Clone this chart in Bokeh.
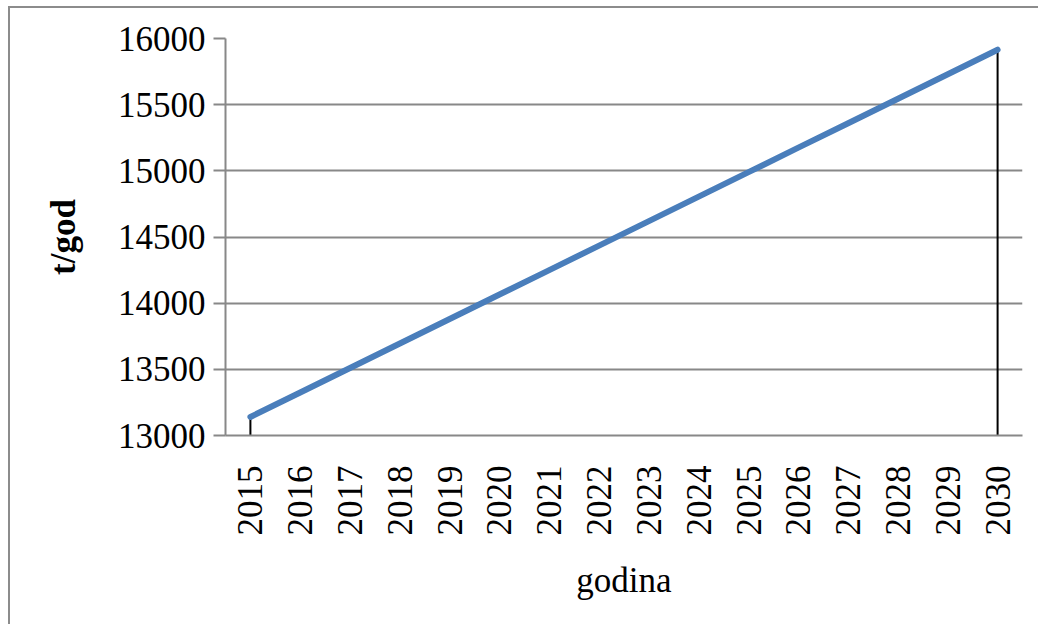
import math
from bokeh.plotting import figure
from bokeh.models import FactorRange, Range1d, FixedTicker, ColumnDataSource
from bokeh.embed import file_html
from bokeh.resources import INLINE

years = [str(y) for y in range(2015, 2031)]
values = [13140, 13325, 13510, 13695, 13880, 14065, 14250, 14435,
          14620, 14805, 14990, 15175, 15360, 15545, 15730, 15915]
y_ticks = [13000, 13500, 14000, 14500, 15000, 15500, 16000]
y_min, y_max = 13000, 16000

FONT = "Liberation Serif"
GRID = "#888888"
FS = "35px"

p = figure(width=1030, height=618, x_range=FactorRange(*years, range_padding=0),
           y_range=Range1d(y_min, y_max), output_backend="svg", toolbar_location=None,
           min_border_left=215, min_border_right=18, min_border_top=30, min_border_bottom=191)
p.margin = (6, 0, 0, 8)
p.styles = {"border-top": "2px solid #8c8c8c", "border-left": "2px solid #8c8c8c"}
p.outline_line_color = None
p.background_fill_color = "white"

src = ColumnDataSource(dict(x=years, y=values))
# drop lines at first and last points
drop = ColumnDataSource(dict(x=[years[0], years[-1]], y0=[y_min, y_min], y1=[values[0], values[-1]]))
p.segment(x0="x", y0="y0", x1="x", y1="y1", source=drop, line_color="black", line_width=2)
p.line("x", "y", source=src, line_color="#4a7ebb", line_width=6, line_cap="round")

p.xgrid.grid_line_color = None
p.ygrid.grid_line_color = GRID
p.ygrid.grid_line_width = 2
p.yaxis.ticker = FixedTicker(ticks=y_ticks)

for ax in (p.xaxis[0], p.yaxis[0]):
    ax.axis_line_color = GRID
    ax.axis_line_width = 2
    ax.major_label_text_font = FONT
    ax.major_label_text_font_size = FS
    ax.major_label_text_color = "black"
    ax.axis_label_text_font = FONT
    ax.axis_label_text_font_size = FS
    ax.axis_label_text_color = "black"
    ax.minor_tick_line_color = None

p.yaxis.major_tick_out = 12
p.yaxis.major_tick_in = 0
p.yaxis.major_tick_line_color = GRID
p.yaxis.major_tick_line_width = 2
p.yaxis.major_label_standoff = 8
p.yaxis.axis_label = "t/god"
p.yaxis.axis_label_text_font_style = "bold"
p.yaxis.axis_label_standoff = 32

p.xaxis.major_tick_line_color = None
p.xaxis.major_tick_out = 0
p.xaxis.major_tick_in = 0
p.xaxis.major_label_orientation = math.pi / 2
p.xaxis.major_label_standoff = 30
p.xaxis.axis_label = "godina"
p.xaxis.axis_label_text_font_style = "normal"
p.xaxis.axis_label_standoff = 22

open("out.html", "w").write(file_html(p, INLINE))
